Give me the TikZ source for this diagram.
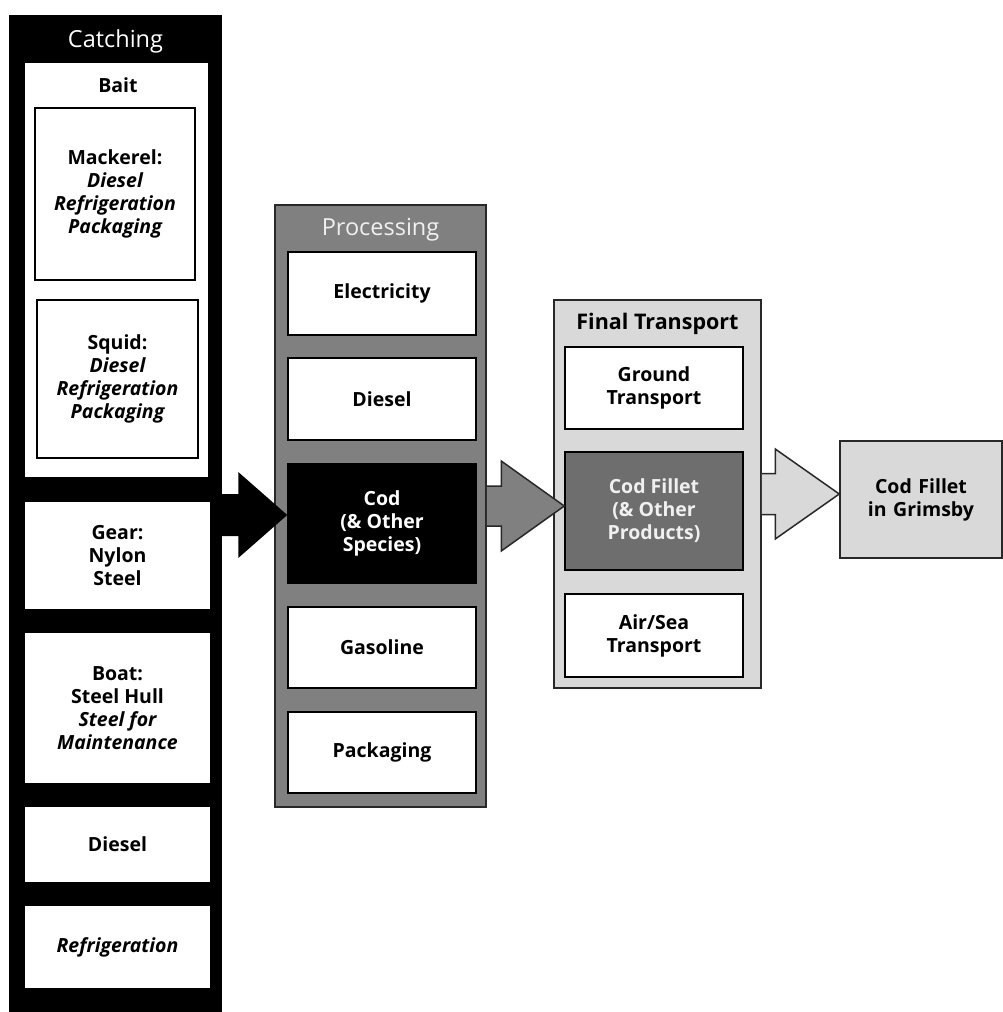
\documentclass[tikz,border=0pt]{standalone}
\usepackage{fontspec}
\setmainfont{Open Sans}
\usetikzlibrary{calc}
\definecolor{procgray}{RGB}{128,128,128}
\definecolor{lightgray2}{RGB}{217,217,217}
\definecolor{filletgray}{RGB}{110,110,110}
\definecolor{edgegray}{RGB}{40,40,40}
\newcommand\blockarrow[6]{%
  \fill[#1] let \p1=(#2), \p2=(#3) in
    (\x1,\y2+#4) -- (\x2-#6,\y2+#4) -- (\x2-#6,\y2+#5) -- (\x2,\y2)
    -- (\x2-#6,\y2-#5) -- (\x2-#6,\y2-#4) -- (\x1,\y2-#4) -- cycle;
  \draw[edgegray,line width=1.5pt,line join=miter] let \p1=(#2), \p2=(#3) in
    (\x1,\y2+#4) -- (\x2-#6,\y2+#4) -- (\x2-#6,\y2+#5) -- (\x2,\y2)
    -- (\x2-#6,\y2-#5) -- (\x2-#6,\y2-#4) -- (\x1,\y2-#4);
}
\begin{document}
\begin{tikzpicture}[x=1pt,y=-1pt,
  body/.style={font=\fontsize{19.5}{23}\selectfont\bfseries},
  ibox/.style={draw=black,line width=1.5pt,fill=white,inner sep=0pt,align=center,body},
  panel/.style={inner sep=0pt,line width=1.5pt},
  ttl/.style={inner sep=0pt,font=\fontsize{23.5}{26}\selectfont}
]
\useasboundingbox[fill=white] (0,0) rectangle (1003,1012);

% ---------- Catching ----------
\node[panel,fill=black,draw=black,minimum width=211,minimum height=996] (catch) at (115.5,514) {};
\node[ttl,text=white] (catchT) at (115.5,41) {Catching};
\node[panel,fill=white,minimum width=183,minimum height=414] (bait) at (116.5,270) {};
\node[inner sep=0pt,body] (baitT) at (118,85) {Bait};
\node[ibox,minimum width=160,minimum height=172] (mack) at (115,194)
  {Mackerel:\\\itshape Diesel\\\itshape Refrigeration\\\itshape Packaging};
\node[ibox,minimum width=161,minimum height=158] (squid) at (117.5,379)
  {Squid:\\\itshape Diesel\\\itshape Refrigeration\\\itshape Packaging};
\node[ibox,draw=none,minimum width=185,minimum height=107] (gear) at (117.5,555.5)
  {Gear:\\Nylon\\Steel};
\node[ibox,draw=none,minimum width=185,minimum height=150] (boat) at (117.5,708)
  {Boat:\\Steel Hull\\\itshape Steel for\\\itshape Maintenance};
\node[ibox,draw=none,minimum width=185,minimum height=75] (cdiesel) at (117.5,844.5)
  {Diesel};
\node[ibox,draw=none,minimum width=185,minimum height=82] (crefr) at (117.5,947)
  {\itshape Refrigeration};

% ---------- Processing ----------
\node[panel,fill=procgray,draw=edgegray,minimum width=211,minimum height=602] (proc) at (380.5,506) {};
\node[ttl,text=white!94!black] (procT) at (380.5,230) {Processing};
\node[ibox,minimum width=188,minimum height=83] (elec) at (382,293.5) {Electricity};
\node[ibox,minimum width=188,minimum height=82] (pdiesel) at (382,399) {Diesel};
\node[ibox,fill=black,text=white,minimum width=188,minimum height=119] (cod) at (382,523.5)
  {Cod\\(\& Other\\Species)};
\node[ibox,minimum width=188,minimum height=81] (gas) at (382,647.5) {Gasoline};
\node[ibox,minimum width=188,minimum height=81] (pack) at (382,752.5) {Packaging};

% ---------- Final Transport ----------
\node[panel,fill=lightgray2,draw=edgegray,minimum width=207,minimum height=388] (ft) at (657.5,494) {};
\node[ttl,font=\fontsize{21.5}{24}\selectfont\bfseries] (ftT) at (657.5,324) {Final Transport};
\node[ibox,minimum width=178,minimum height=82] (ground) at (654,388) {Ground\\Transport};
\node[ibox,fill=filletgray,text=white!94!black,minimum width=178,minimum height=118] (fillet) at (654,511)
  {Cod Fillet\\(\& Other\\Products)};
\node[ibox,minimum width=178,minimum height=83] (airsea) at (654,635.5) {Air/Sea\\Transport};

% ---------- Destination ----------
\node[ibox,fill=lightgray2,draw=edgegray,minimum width=162,minimum height=117,text width=155] (grim) at (921,499.5)
  {Cod Fillet\\in Grimsby};

% ---------- Block arrows ----------
\coordinate (tipA) at ($(cod.west)+(0,-8.5)$);
\coordinate (tipB) at ($(fillet.west)+(0,-5)$);
\coordinate (tipC) at ($(grim.west)+(0,-5.5)$);
\fill[black] let \p1=(catch.east), \p2=(tipA) in
  (\x1-1pt,\y2+21pt) -- (\x2-49pt,\y2+21pt) -- (\x2-49pt,\y2+43pt) -- (\x2,\y2)
  -- (\x2-49pt,\y2-43pt) -- (\x2-49pt,\y2-21pt) -- (\x1-1pt,\y2-21pt) -- cycle;
\blockarrow{procgray}{proc.east}{tipB}{20pt}{45pt}{63pt}
\blockarrow{lightgray2}{ft.east}{tipC}{20.5pt}{45pt}{64pt}
\end{tikzpicture}
\end{document}
